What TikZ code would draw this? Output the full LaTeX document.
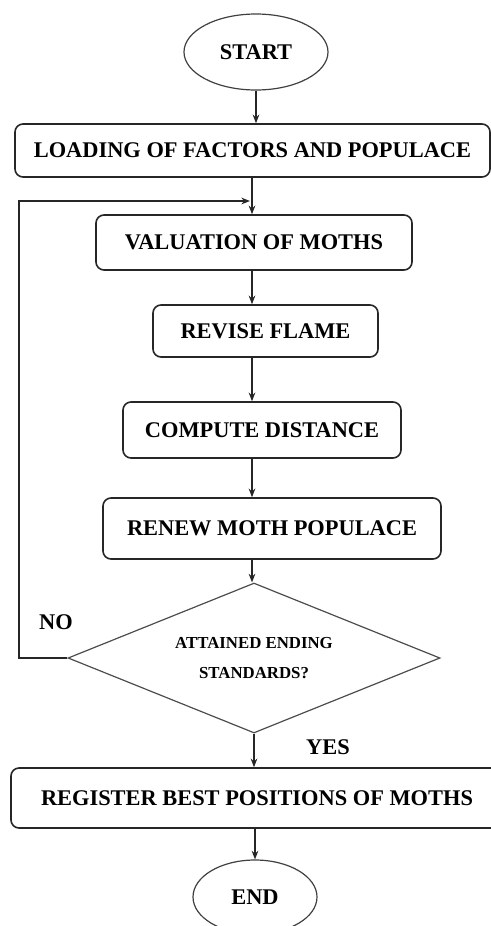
\documentclass[tikz,border=0pt]{standalone}
\usepackage{fontspec}
\setmainfont{Liberation Serif}
\usetikzlibrary{shapes.geometric,arrows.meta}
\tikzset{every picture/.style={line width=0.75pt}}
\tikzset{
  stepbox/.style={draw=black!85, line width=1.2pt, rounded corners=6pt, inner sep=0pt,
    font=\fontsize{16.8}{20}\selectfont\bfseries},
  termnode/.style={draw=black!75, line width=0.9pt, ellipse, inner sep=0pt,
    font=\fontsize{16.8}{20}\selectfont\bfseries},
  decide/.style={draw=black!70, line width=0.9pt, diamond, aspect=2.48, inner sep=0pt, align=center,
    font=\fontsize{12.6}{22.5}\selectfont\bfseries},
  tag/.style={inner sep=0pt, font=\fontsize{16.8}{20}\selectfont\bfseries},
  flow/.style={draw=black!85, line width=1pt, -{Stealth[length=6.5pt,width=5pt]}}
}

\begin{document}
\begin{tikzpicture}[x=0.75pt,y=0.75pt,yscale=-1,xscale=1]
\useasboundingbox (0,0) rectangle (491,926);

%Terminals
\node [termnode, minimum width=108pt, minimum height=57pt] (start) at (256,52) {START};
\node [termnode, minimum width=93pt, minimum height=55.5pt] (end) at (255,897) {END};

%Process boxes
\node [stepbox, minimum width=356.25pt, minimum height=39.75pt] (load) at (252.5,150.5) {LOADING OF FACTORS AND POPULACE};
\node [stepbox, minimum width=237pt, minimum height=41.25pt] (valuate) at (254,242.5) {VALUATION OF MOTHS};
\node [stepbox, minimum width=168.75pt, minimum height=39pt] (revise) at (265.5,331) {REVISE FLAME};
\node [stepbox, minimum width=208.5pt, minimum height=42pt] (compute) at (262,430) {COMPUTE DISTANCE};
\node [stepbox, minimum width=253.5pt, minimum height=45.75pt] (renew) at (272,528.5) {RENEW MOTH POPULACE};
\node [stepbox, minimum width=369pt, minimum height=45pt] (register) at (257,798) {REGISTER BEST POSITIONS OF MOTHS};

%Decision
\node [decide, minimum width=279pt, minimum height=112.5pt] (check) at (254,658) {ATTAINED ENDING\\STANDARDS?};

%Labels
\node [tag] (no) at (56,622) {NO};
\node [tag] (yes) at (328,747) {YES};

%Helper points
\coordinate (spine) at (252,0);
\coordinate (back) at (19,201);
\coordinate (join) at (250,201);

%Connectors
\draw [flow] (start.south) -- (load.north -| start.south);
\draw [flow] (load.south -| spine) -- (valuate.north -| spine);
\draw [flow] (valuate.south -| spine) -- (revise.north -| spine);
\draw [flow] (revise.south -| spine) -- (compute.north -| spine);
\draw [flow] (compute.south -| spine) -- (renew.north -| spine);
\draw [flow] (renew.south -| spine) -- (check.north -| spine);
\draw [flow] (check.south) -- (register.north -| check.south);
\draw [flow] (register.south -| end.north) -- (end.north);
\draw [flow] (check.west) -| (back) -- (join);

\end{tikzpicture}
\end{document}
